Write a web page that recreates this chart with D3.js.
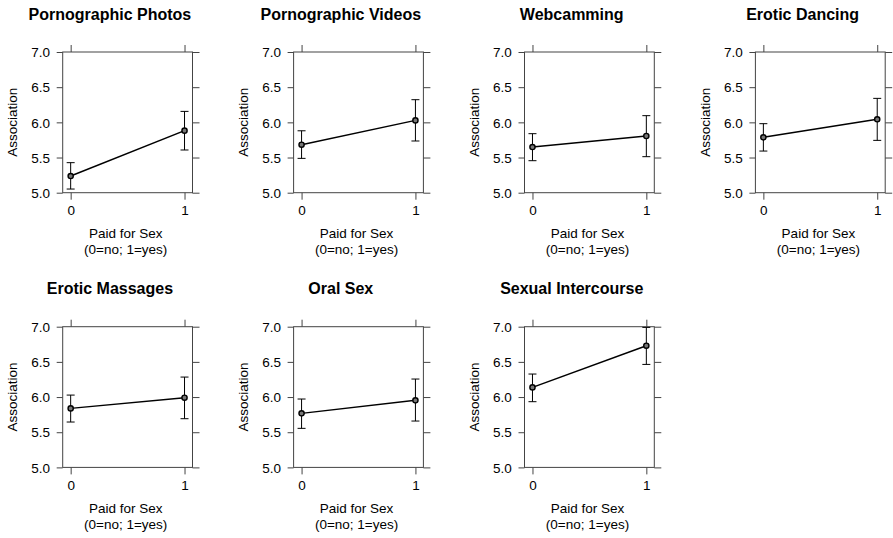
<!DOCTYPE html>
<html><head><meta charset="utf-8">
<script src="https://cdn.jsdelivr.net/npm/d3@7"></script>
<style>body{margin:0;background:#fff}svg{display:block}text{font-family:"Liberation Sans",Arial,Helvetica,sans-serif}</style>
</head><body><svg id="c" width="893" height="538"></svg>
<script>
const titles = ["Pornographic Photos","Pornographic Videos","Webcamming","Erotic Dancing","Erotic Massages","Oral Sex","Sexual Intercourse"];
const xValues = [0, 1];
const means = [[5.237,5.882],[5.682,6.028],[5.649,5.806],[5.787,6.043],[5.839,5.991],[5.768,5.953],[6.137,6.730]];
const lower = [[5.052,5.607],[5.488,5.735],[5.455,5.512],[5.592,5.744],[5.645,5.692],[5.555,5.659],[5.934,6.464]];
const upper = [[5.427,6.156],[5.880,6.322],[5.839,6.095],[5.981,6.341],[6.028,6.284],[5.972,6.256],[6.327,6.990]];
const yTicks = [5.0,5.5,6.0,6.5,7.0];
const xTickLabels = ["0","1"];
const yLabel = "Association";
const xLabel = ["Paid for Sex","(0=no; 1=yes)"];

const svg = d3.select("#c");
const boxW = 129.8, boxH = 140.7, colStep = 230.9, rowStep = 274.7, left0 = 62.7, top0 = 52;
const axisCol = "#444";
const fs = 13.5;

titles.forEach((t, i) => {
  const col = i % 4, row = Math.floor(i / 4);
  const g = svg.append("g").attr("transform", `translate(${left0 + col*colStep},${top0 + row*rowStep})`);
  const x = d3.scaleLinear().domain([-0.07, 1.07]).range([0, boxW]);
  const y = d3.scaleLinear().domain([5, 7]).range([boxH, 0]);

  const ya = g.append("g").call(d3.axisLeft(y).tickValues(yTicks).tickFormat(d3.format(".1f")).tickSize(6).tickSizeOuter(0));
  const xa = g.append("g").attr("transform", `translate(0,${boxH})`).call(d3.axisBottom(x).tickValues(xValues).tickFormat((d,j)=>xTickLabels[j]).tickSize(7).tickSizeOuter(0));
  const ta = g.append("g").call(d3.axisTop(x).tickValues(xValues).tickFormat("").tickSize(7).tickSizeOuter(0));
  const ra = g.append("g").attr("transform", `translate(${boxW},0)`).call(d3.axisRight(y).tickValues(yTicks).tickFormat("").tickSize(7).tickSizeOuter(0));
  [ya, xa, ta, ra].forEach(a => {
    a.select(".domain").remove();
    a.selectAll("line").attr("stroke", axisCol);
    a.selectAll("text").attr("font-size", fs).attr("fill", "#000").style("font-family", '"Liberation Sans",Arial,sans-serif');
  });
  ya.selectAll("text").attr("x", -12.7).attr("dy", "0.35em");
  xa.selectAll("text").attr("y", 22.3).attr("dy", null);
  g.append("rect").attr("x",0).attr("y",0).attr("width",boxW).attr("height",boxH)
    .attr("fill","none").attr("stroke",axisCol).attr("stroke-width",1);

  xValues.forEach((xv, j) => {
    const cx = x(xv);
    g.append("line").attr("x1",cx).attr("x2",cx).attr("y1",y(lower[i][j])).attr("y2",y(upper[i][j])).attr("stroke","#000").attr("stroke-width",1);
    [lower[i][j], upper[i][j]].forEach(v => {
      g.append("line").attr("x1",cx-4).attr("x2",cx+4).attr("y1",y(v)).attr("y2",y(v)).attr("stroke","#000").attr("stroke-width",1);
    });
  });
  const line = d3.line().x((d,j)=>x(xValues[j])).y(d=>y(d));
  g.append("path").datum(means[i]).attr("d", line).attr("fill","none").attr("stroke","#000").attr("stroke-width",1.5);
  g.selectAll("circle").data(means[i]).join("circle")
    .attr("cx",(d,j)=>x(xValues[j])).attr("cy",d=>y(d)).attr("r",2.6)
    .attr("fill","#777").attr("stroke","#000").attr("stroke-width",1.4);

  g.append("text").attr("x", boxW/2 - 17.7).attr("y", -32.5).attr("text-anchor","middle")
    .attr("font-size",16).attr("font-weight","bold").text(t);
  g.append("text").attr("transform",`translate(-45.4,${boxH/2}) rotate(-90)`).attr("text-anchor","middle")
    .attr("font-size",fs).text(yLabel);
  g.append("text").attr("x", boxW/2 - 1.9).attr("y", boxH + 45.6).attr("text-anchor","middle").attr("font-size",fs).text(xLabel[0]);
  g.append("text").attr("x", boxW/2 - 1.9).attr("y", boxH + 61.3).attr("text-anchor","middle").attr("font-size",fs).text(xLabel[1]);
});
</script></body></html>
